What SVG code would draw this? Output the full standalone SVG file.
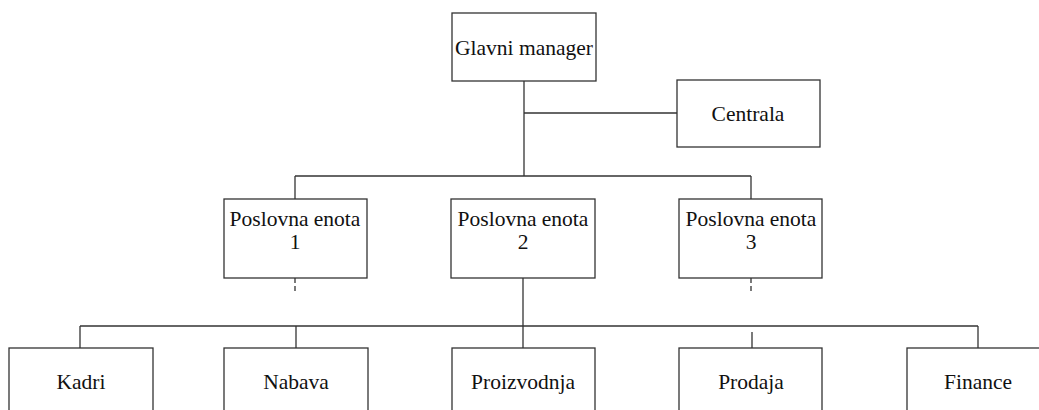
<svg xmlns="http://www.w3.org/2000/svg" width="1039" height="410" viewBox="0 0 1039 410">
  <style>
    .box { fill: #ffffff; stroke: #333333; stroke-width: 1.3; }
    .lbl { font-family: "Liberation Serif", "Times New Roman", serif; font-size: 21.5px; fill: #111111; text-anchor: middle; }
    .wire { fill: none; stroke: #333333; stroke-width: 1.3; }
    .dash { fill: none; stroke: #333333; stroke-width: 1.3; stroke-dasharray: 5 3; }
  </style>
  <rect width="1039" height="410" fill="#ffffff"/>

  <g id="connectors">
    <line class="wire" x1="524" y1="81" x2="524" y2="176"/>
    <line class="wire" x1="524" y1="113" x2="677" y2="113"/>
    <line class="wire" x1="295" y1="176" x2="751" y2="176"/>
    <line class="wire" x1="295" y1="176" x2="295" y2="199"/>
    <line class="wire" x1="751" y1="176" x2="751" y2="199"/>
    <line class="dash" x1="295" y1="278" x2="295" y2="294"/>
    <line class="dash" x1="751" y1="278" x2="751" y2="294"/>
    <line class="wire" x1="523" y1="278" x2="523" y2="348"/>
    <line class="wire" x1="80" y1="326" x2="978" y2="326"/>
    <line class="wire" x1="80" y1="326" x2="80" y2="348"/>
    <line class="wire" x1="296" y1="326" x2="296" y2="348"/>
    <line class="wire" x1="752" y1="332" x2="752" y2="348"/>
    <line class="wire" x1="978" y1="326" x2="978" y2="348"/>
  </g>

  <g id="glavni-manager">
    <rect class="box" x="452" y="13" width="144" height="68"/>
    <text class="lbl" x="524" y="55">Glavni manager</text>
  </g>
  <g id="centrala">
    <rect class="box" x="677" y="80" width="143" height="67"/>
    <text class="lbl" x="748" y="121">Centrala</text>
  </g>

  <g id="poslovna-enota-1">
    <rect class="box" x="224" y="199" width="143" height="79"/>
    <text class="lbl" x="295" y="226">Poslovna enota</text>
    <text class="lbl" x="295" y="249">1</text>
  </g>
  <g id="poslovna-enota-2">
    <rect class="box" x="451" y="199" width="144" height="79"/>
    <text class="lbl" x="523" y="226">Poslovna enota</text>
    <text class="lbl" x="523" y="249">2</text>
  </g>
  <g id="poslovna-enota-3">
    <rect class="box" x="679" y="199" width="143" height="79"/>
    <text class="lbl" x="751" y="226">Poslovna enota</text>
    <text class="lbl" x="751" y="249">3</text>
  </g>

  <g id="kadri">
    <rect class="box" x="9" y="348" width="144" height="80"/>
    <text class="lbl" x="81" y="389">Kadri</text>
  </g>
  <g id="nabava">
    <rect class="box" x="224" y="348" width="144" height="80"/>
    <text class="lbl" x="296" y="389">Nabava</text>
  </g>
  <g id="proizvodnja">
    <rect class="box" x="452" y="348" width="143" height="80"/>
    <text class="lbl" x="523" y="389">Proizvodnja</text>
  </g>
  <g id="prodaja">
    <rect class="box" x="679" y="348" width="143" height="80"/>
    <text class="lbl" x="751" y="389">Prodaja</text>
  </g>
  <g id="finance">
    <rect class="box" x="907" y="348" width="144" height="80"/>
    <text class="lbl" x="978" y="389">Finance</text>
  </g>
</svg>
